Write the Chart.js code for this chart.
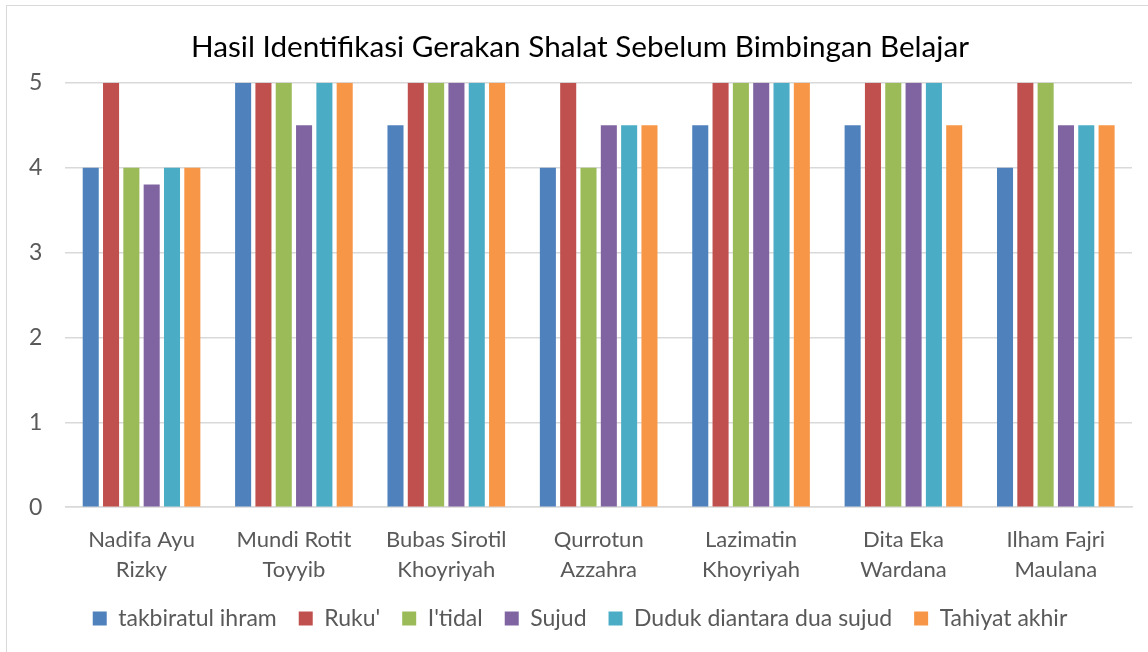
<!DOCTYPE html>
<html>
<head>
<meta charset="utf-8">
<script src="https://cdn.jsdelivr.net/npm/chart.js@4.4.0/dist/chart.umd.min.js"></script>
<style>
  html, body { margin: 0; padding: 0; background: #fff; overflow: hidden; }
  #frame { position: absolute; left: 6px; top: 5px; width: 1200px; height: 700px; border: 1px solid #d9d9d9; box-sizing: border-box; }
  #wrap { position: absolute; left: 0; top: 0; width: 1148px; height: 652px; }
</style>
</head>
<body>
<div id="frame"></div>
<div id="wrap"><canvas id="c"></canvas></div>
<script>
const categories = [
  ["Nadifa Ayu", "Rizky"],
  ["Mundi Rotit", "Toyyib"],
  ["Bubas Sirotil", "Khoyriyah"],
  ["Qurrotun", "Azzahra"],
  ["Lazimatin", "Khoyriyah"],
  ["Dita Eka", "Wardana"],
  ["Ilham Fajri", "Maulana"]
];
const seriesNames = ["takbiratul ihram", "Ruku'", "I'tidal", "Sujud", "Duduk diantara dua sujud", "Tahiyat akhir"];
const takbiratul = [4, 5, 4.5, 4, 4.5, 4.5, 4];
const ruku = [5, 5, 5, 5, 5, 5, 5];
const itidal = [4, 5, 5, 4, 5, 5, 5];
const sujud = [3.8, 4.5, 5, 4.5, 5, 5, 4.5];
const duduk = [4, 5, 5, 4.5, 5, 5, 4.5];
const tahiyat = [4, 5, 5, 4.5, 5, 4.5, 4.5];
const yTicks = [0, 1, 2, 3, 4, 5];
const colors = ["#4F81BD", "#C0504D", "#9BBB59", "#8064A2", "#4BACC6", "#F79646"];

const seriesData = [takbiratul, ruku, itidal, sujud, duduk, tahiyat];
const FONT = "Lato, 'Open Sans', sans-serif";

new Chart(document.getElementById('c'), {
  type: 'bar',
  data: {
    labels: categories,
    datasets: seriesData.map((d, i) => ({
      label: seriesNames[i],
      data: d,
      backgroundColor: colors[i],
      borderWidth: 0,
      categoryPercentage: 0.8,
      barPercentage: 0.79
    }))
  },
  options: {
    responsive: true,
    maintainAspectRatio: false,
    animation: false,
    layout: { padding: { left: 28, right: 16, top: 30, bottom: 12 } },
    plugins: {
      title: {
        display: true,
        text: "Hasil Identifikasi Gerakan Shalat Sebelum Bimbingan Belajar",
        color: "#000",
        font: { family: FONT, size: 29.7, weight: 'normal', lineHeight: 1.17 },
        padding: { top: 0, bottom: 18 }
      },
      legend: {
        position: 'bottom',
        labels: {
          color: "#595959",
          font: { family: FONT, size: 23 },
          boxWidth: 14,
          boxHeight: 14,
          padding: 22
        }
      },
      tooltip: { enabled: false }
    },
    scales: {
      x: {
        grid: { display: false, drawTicks: false },
        border: { display: true, color: "#d9d9d9", width: 1.5 },
        ticks: {
          color: "#595959",
          font: { family: FONT, size: 22, lineHeight: 1.36 },
          padding: 18,
          maxRotation: 0
        },
        afterFit: (s) => { s.height -= 18; }
      },
      y: {
        min: 0,
        max: 5,
        afterBuildTicks: (axis) => { axis.ticks = yTicks.map(v => ({ value: v })); },
        grid: { color: "#d9d9d9", lineWidth: 1.5, drawTicks: false },
        border: { display: false },
        ticks: {
          color: "#595959",
          font: { family: FONT, size: 23 },
          padding: 23
        },
        afterFit: (s) => { s.width -= 22; }
      }
    }
  }
});
</script>
</body>
</html>
